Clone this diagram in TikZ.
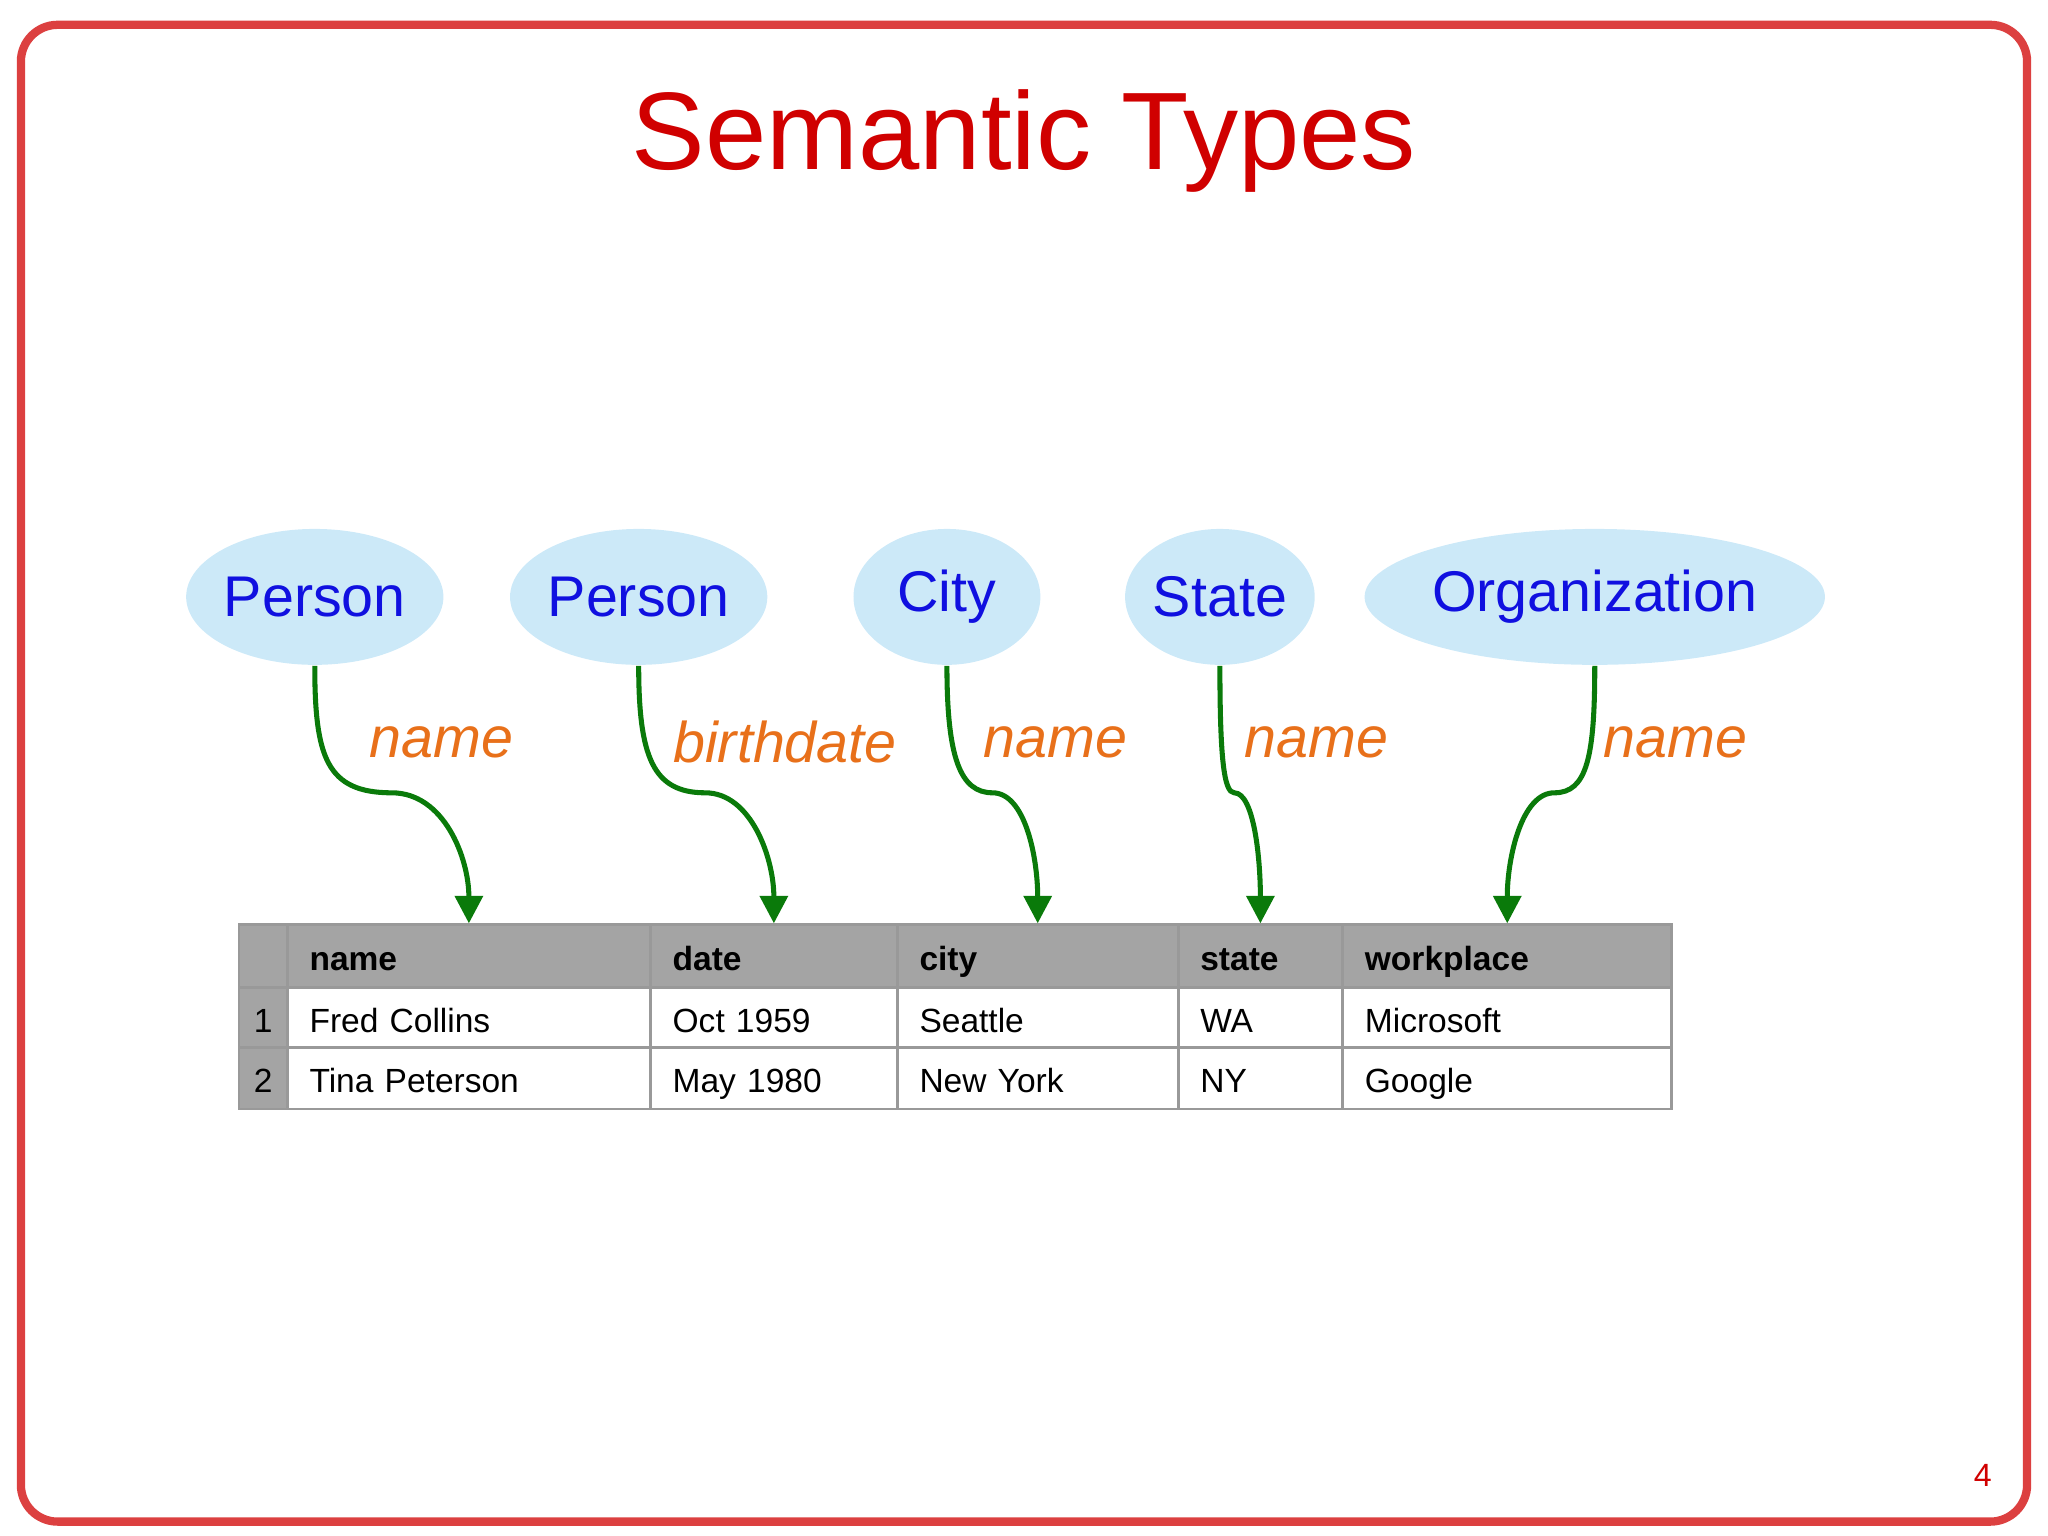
\documentclass[tikz,border=0pt]{standalone}
\usepackage{fontspec}
\setmainfont{Liberation Sans}
\usetikzlibrary{shapes.geometric,arrows.meta}
\definecolor{slidered}{HTML}{D00000}
\definecolor{bubble}{HTML}{CCE9F8}
\definecolor{typeblue}{HTML}{1010E0}
\definecolor{rolecol}{HTML}{E8701A}
\definecolor{linkgreen}{HTML}{0A7A0A}
\definecolor{headgray}{HTML}{A4A4A4}
\tikzset{
    typenode/.style = {
        ellipse,
        fill=bubble,
        text=typeblue,
        font=\fontsize{12.5}{15}\selectfont,
        minimum height=1.04cm,
        inner sep=0pt
    },
    rolelabel/.style = {
        text=rolecol,
        font=\fontsize{12.5}{15}\selectfont\itshape
    },
    link/.style = {
        draw=linkgreen,
        line width=1.1pt,
        -{Triangle[length=6pt,width=6pt]}
    },
    cellnode/.style = {
        rectangle,
        draw=gray!80,
        line width=0.6pt,
        inner sep=0pt,
        text height=1.6ex,
        text depth=0.4ex,
        font=\fontsize{7.3}{9}\selectfont
    },
    headcell/.style = {
        cellnode,
        fill=headgray,
        font=\fontsize{7.3}{9}\selectfont\bfseries
    },
    numcell/.style = {
        cellnode,
        fill=headgray
    }
}
% cell: name, x0, x1, y0, y1, style, text
\newcommand{\tcell}[7]{
    \node [#6, minimum width={(#3-#2)*0.01cm}, minimum height={(#5-#4)*0.01cm},
           text width={(#3-#2-34)*0.01cm}, align=left]
        (#1) at ({(#2+#3)/2},{(#4+#5)/2}) {#7};
}
\begin{document}
\begin{tikzpicture}[x=0.01cm,y=-0.01cm]
    \useasboundingbox (0,0) rectangle (1568,1176);
    \draw [slidered!75, line width=1.8pt, rounded corners=8pt] (16,19) rectangle (1552,1165);
    \node (title) at (784,108) {\fontsize{24}{28}\selectfont\color{slidered}Semantic Types};
    \node (pagenum) at (1518,1130) {\fontsize{7}{8}\selectfont\color{slidered}4};

    % types
    \node [typenode, minimum width=1.95cm] (person1) at (241,457) {Person};
    \node [typenode, minimum width=1.95cm] (person2) at (489,457) {Person};
    \node [typenode, minimum width=1.43cm] (city) at (725,457) {City};
    \node [typenode, minimum width=1.43cm] (state) at (934,457) {State};
    \node [typenode, minimum width=3.26cm] (org) at (1221,457) {Organization};

    % table
    \tcell{hnum}{183}{220}{708}{756}{headcell}{}
    \tcell{hname}{220}{498}{708}{756}{headcell}{name}
    \tcell{hdate}{498}{687}{708}{756}{headcell}{date}
    \tcell{hcity}{687}{902}{708}{756}{headcell}{city}
    \tcell{hstate}{902}{1028}{708}{756}{headcell}{state}
    \tcell{hwork}{1028}{1280}{708}{756}{headcell}{workplace}
    \node [numcell, minimum width=0.37cm, minimum height=0.46cm] (n1) at (201.5,779) {1};
    \tcell{a1}{220}{498}{756}{802}{cellnode}{Fred Collins}
    \tcell{a2}{498}{687}{756}{802}{cellnode}{Oct 1959}
    \tcell{a3}{687}{902}{756}{802}{cellnode}{Seattle}
    \tcell{a4}{902}{1028}{756}{802}{cellnode}{WA}
    \tcell{a5}{1028}{1280}{756}{802}{cellnode}{Microsoft}
    \node [numcell, minimum width=0.37cm, minimum height=0.47cm] (n2) at (201.5,825.5) {2};
    \tcell{b1}{220}{498}{802}{849}{cellnode}{Tina Peterson}
    \tcell{b2}{498}{687}{802}{849}{cellnode}{May 1980}
    \tcell{b3}{687}{902}{802}{849}{cellnode}{New York}
    \tcell{b4}{902}{1028}{802}{849}{cellnode}{NY}
    \tcell{b5}{1028}{1280}{802}{849}{cellnode}{Google}

    % links
    \coordinate (m1) at (300,607);
    \coordinate (m2) at (540,607);
    \coordinate (m3) at (760,607);
    \coordinate (m4) at (945,607);
    \coordinate (m5) at (1190,607);
    \draw [link] (person1.south) .. controls +(0,70) and +(-50,0) .. (m1)
        .. controls +(40,0) and +(0,-50) .. (hname.north);
    \draw [link] (person2.south) .. controls +(0,70) and +(-40,0) .. (m2)
        .. controls +(35,0) and +(0,-50) .. (hdate.north);
    \draw [link] (city.south) .. controls +(0,70) and +(-25,0) .. (m3)
        .. controls +(25,0) and +(0,-50) .. (hcity.north);
    \draw [link] (state.south) .. controls +(0,70) and +(-8,0) .. (m4)
        .. controls +(15,0) and +(0,-50) .. (hstate.north);
    \draw [link] (org.south) .. controls +(0,70) and +(25,0) .. (m5)
        .. controls +(-25,0) and +(0,-50) .. (hwork.north);

    % roles
    \node [rolelabel] (r1) at (338,568) {name};
    \node [rolelabel] (r2) at (601,568) {birthdate};
    \node [rolelabel] (r3) at (808,568) {name};
    \node [rolelabel] (r4) at (1008,568) {name};
    \node [rolelabel] (r5) at (1283,568) {name};
\end{tikzpicture}
\end{document}
